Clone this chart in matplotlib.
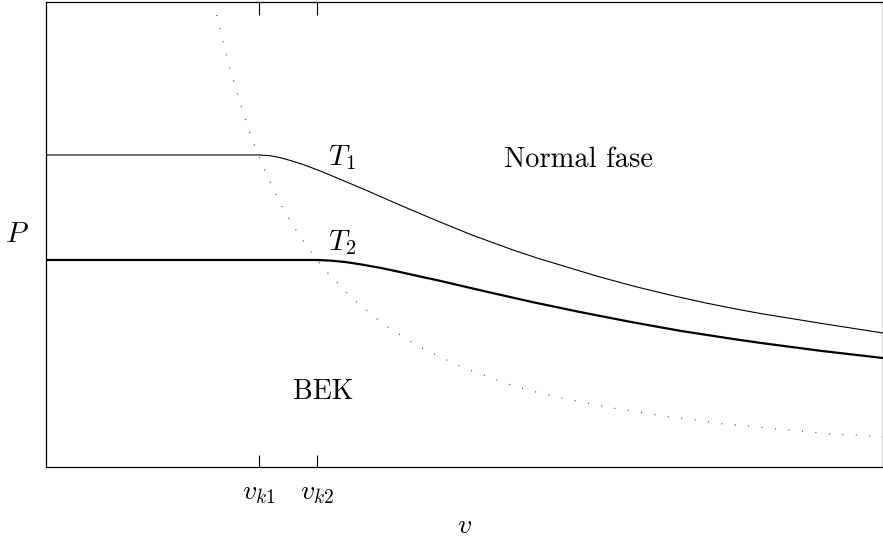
import numpy as np
import matplotlib.pyplot as plt

plt.rcParams['mathtext.fontset'] = 'cm'
plt.rcParams['font.family'] = ['cmr10', 'DejaVu Serif']
plt.rcParams['axes.unicode_minus'] = False

# isotherm T1 (thin line)
t1_v = [0.0, 2.545, 2.676, 2.796, 2.915, 3.047, 3.178, 3.309, 3.441, 3.572, 3.823,
        4.074, 4.325, 4.707, 5.090, 5.579, 5.866, 6.380, 6.619, 7.037, 7.455, 7.873,
        8.292, 8.542, 9.271, 10.0]
t1_p = [6.710, 6.710, 6.695, 6.654, 6.594, 6.520, 6.434, 6.342, 6.243, 6.144, 5.953,
        5.755, 5.559, 5.269, 4.989, 4.667, 4.495, 4.215, 4.086, 3.882, 3.699, 3.531,
        3.381, 3.299, 3.086, 2.882]

# isotherm T2 (thick line)
t2_v = [0.0, 3.238, 3.393, 3.572, 3.751, 3.990, 4.229, 4.468, 4.707, 4.946, 5.269,
        5.818, 6.380, 6.977, 7.575, 8.172, 8.542, 9.271, 10.0]
t2_p = [4.452, 4.452, 4.439, 4.409, 4.361, 4.284, 4.194, 4.097, 4.004, 3.903, 3.768,
        3.544, 3.333, 3.123, 2.929, 2.763, 2.667, 2.495, 2.344]

# transition curve (dotted)
kr_v = [2.039, 2.091, 2.198, 2.306, 2.410, 2.521, 2.628, 2.796, 2.947, 3.130, 3.321,
        3.656, 4.026, 4.421, 4.707, 4.994, 5.293, 5.591, 5.902, 6.213, 6.523, 6.834,
        7.145, 7.455, 7.778, 8.088, 8.399, 8.722, 9.032, 9.355, 9.677, 10.0]
kr_p = [9.720, 9.312, 8.559, 7.914, 7.312, 6.774, 6.323, 5.677, 5.204, 4.710, 4.258,
        3.634, 3.075, 2.624, 2.366, 2.129, 1.935, 1.742, 1.591, 1.462, 1.355, 1.247,
        1.161, 1.075, 1.011, 0.925, 0.882, 0.817, 0.774, 0.710, 0.688, 0.645]

tick_pos = [2.545, 3.238]
tick_txt = ['$v_{k1}$', '$v_{k2}$']

fig = plt.figure(figsize=(8.83, 5.47), dpi=100)
ax = fig.add_axes([46/883, 80/547, 837/883, 465/547])

ax.plot(t1_v, t1_p, color='black', lw=0.8, solid_joinstyle='round')
ax.plot(t2_v, t2_p, color='black', lw=1.6, solid_joinstyle='round')
ax.plot(kr_v, kr_p, color='#444444', lw=0.9, linestyle=(0, (0.8, 10)))

ax.set_xlim(0, 10)
ax.set_ylim(0, 10)
ax.set_xticks(tick_pos)
ax.set_xticklabels(tick_txt, fontsize=20)
ax.set_yticks([])
ax.tick_params(axis='x', direction='in', length=9, width=0.8, top=True, pad=9)
for s in ax.spines.values():
    s.set_linewidth(0.9)

ax.set_xlabel('$v$', fontsize=20, labelpad=5)
ax.set_ylabel('$P$', fontsize=21, rotation=0, labelpad=21, va='center')

ax.text(3.54, 6.65, '$T_1$', fontsize=21, ha='center', va='center')
ax.text(3.54, 4.82, '$T_2$', fontsize=21, ha='center', va='center')
ax.text(6.36, 6.60, 'Normal fase', fontsize=20.5, ha='center', va='center')
ax.text(3.31, 1.61, 'BEK', fontsize=20, ha='center', va='center')

fig.savefig('out.png', dpi=100)
